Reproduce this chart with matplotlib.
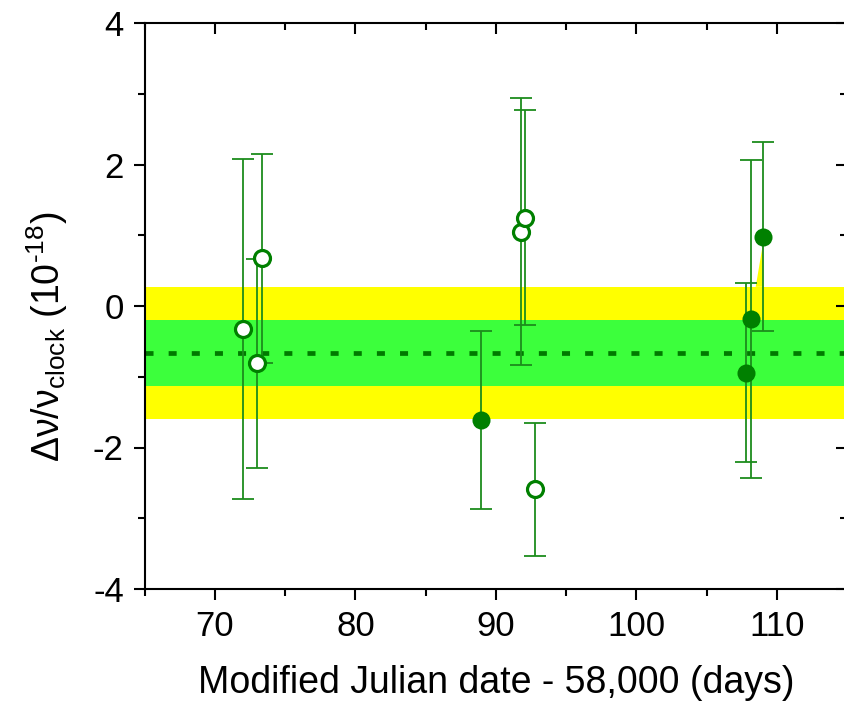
import matplotlib
matplotlib.use("Agg")
import matplotlib.pyplot as plt
from matplotlib.ticker import MultipleLocator

plt.rcParams['font.family'] = ['Liberation Sans', 'DejaVu Sans']
plt.rcParams['mathtext.fontset'] = 'custom'
plt.rcParams['mathtext.rm'] = 'Liberation Sans'
plt.rcParams['mathtext.it'] = 'Liberation Sans'
plt.rcParams['mathtext.default'] = 'regular'

# open-circle measurements
open_x = [72.0, 73.0, 73.33, 91.8, 92.1, 92.82]
open_y = [-0.325, -0.81, 0.675, 1.05, 1.25, -2.59]
open_err = [2.40, 1.48, 1.475, 1.89, 1.52, 0.94]

# filled-circle measurements
filled_x = [88.93, 107.8, 108.14, 109.0]
filled_y = [-1.61, -0.94, -0.18, 0.98]
filled_err = [1.26, 1.27, 2.25, 1.34]

# weighted mean and uncertainty bands
mean_val = -0.665
sigma = 0.468

xlim = (65, 115)
ylim = (-4, 4)
xticks = [70, 80, 90, 100, 110]
yticks = [-4, -2, 0, 2, 4]

W, H = 844, 702
fig = plt.figure(figsize=(W / 100, H / 100), dpi=100)
ax = fig.add_axes([144.7 / W, 113 / H, 702.3 / W, 566 / H])
ax.set_xlim(*xlim)
ax.set_ylim(*ylim)

yellow = '#ffff00'
green_band = '#3cff3c'
dark = '#008000'
ecol = '#1c8c1c'

ax.axhspan(mean_val - 2 * sigma, mean_val + 2 * sigma, color=yellow, lw=0, zorder=1)
ax.axhspan(mean_val - sigma, mean_val + sigma, color=green_band, lw=0, zorder=2)
# small yellow sliver artefact near last point
ax.fill([108.5, filled_x[-1], filled_x[-1]],
        [mean_val + 2 * sigma, 0.86, mean_val + 2 * sigma],
        color=yellow, lw=0, zorder=1)
ax.axhline(mean_val, color='#007a00', lw=3.4, dashes=(1.7, 3.2),
           dash_capstyle='butt', zorder=3)

ax.errorbar(open_x, open_y, yerr=open_err, fmt='none', ecolor=ecol,
            elinewidth=1.3, capsize=8, capthick=1.3, zorder=4)
ax.errorbar(filled_x, filled_y, yerr=filled_err, fmt='none', ecolor=ecol,
            elinewidth=1.3, capsize=8, capthick=1.3, zorder=4)
ax.plot(open_x, open_y, 'o', ms=11.5, mfc='white', mec=dark, mew=2.3,
        zorder=5, ls='none')
ax.plot(filled_x, filled_y, 'o', ms=13, mfc=dark, mec=dark, mew=0,
        zorder=5, ls='none')

ax.set_xticks(xticks)
ax.set_yticks(yticks)
ax.set_yticklabels([str(v) for v in yticks])
ax.xaxis.set_minor_locator(MultipleLocator(5))
ax.yaxis.set_minor_locator(MultipleLocator(1))

for s in ax.spines.values():
    s.set_linewidth(1.5)
    s.set_zorder(6)

ax.tick_params(axis='both', which='major', labelsize=25, width=1.5, length=8,
               direction='out', pad=7)
ax.tick_params(axis='both', which='minor', width=1.5, length=5, direction='out')
ax.tick_params(axis='x', which='both', top=True)
ax.tick_params(axis='y', which='both', right=True)
# top/right ticks point inward
for t in ax.xaxis.get_major_ticks() + ax.xaxis.get_minor_ticks():
    t.tick2line.set_marker(3)
for t in ax.yaxis.get_major_ticks() + ax.yaxis.get_minor_ticks():
    t.tick2line.set_marker(0)

ax.set_xlabel('Modified Julian date - 58,000 (days)', fontsize=27)
ax.xaxis.label.set_va('center')
ax.xaxis.set_label_coords(0.5, -0.166)
ax.set_ylabel('$\\Delta\\nu/\\nu_{clock}$ (10$^{\u201018}$)', fontsize=27)
ax.yaxis.label.set_va('center')
ax.yaxis.set_label_coords(-0.139, 0.445)

fig.savefig('out.png', dpi=100)
